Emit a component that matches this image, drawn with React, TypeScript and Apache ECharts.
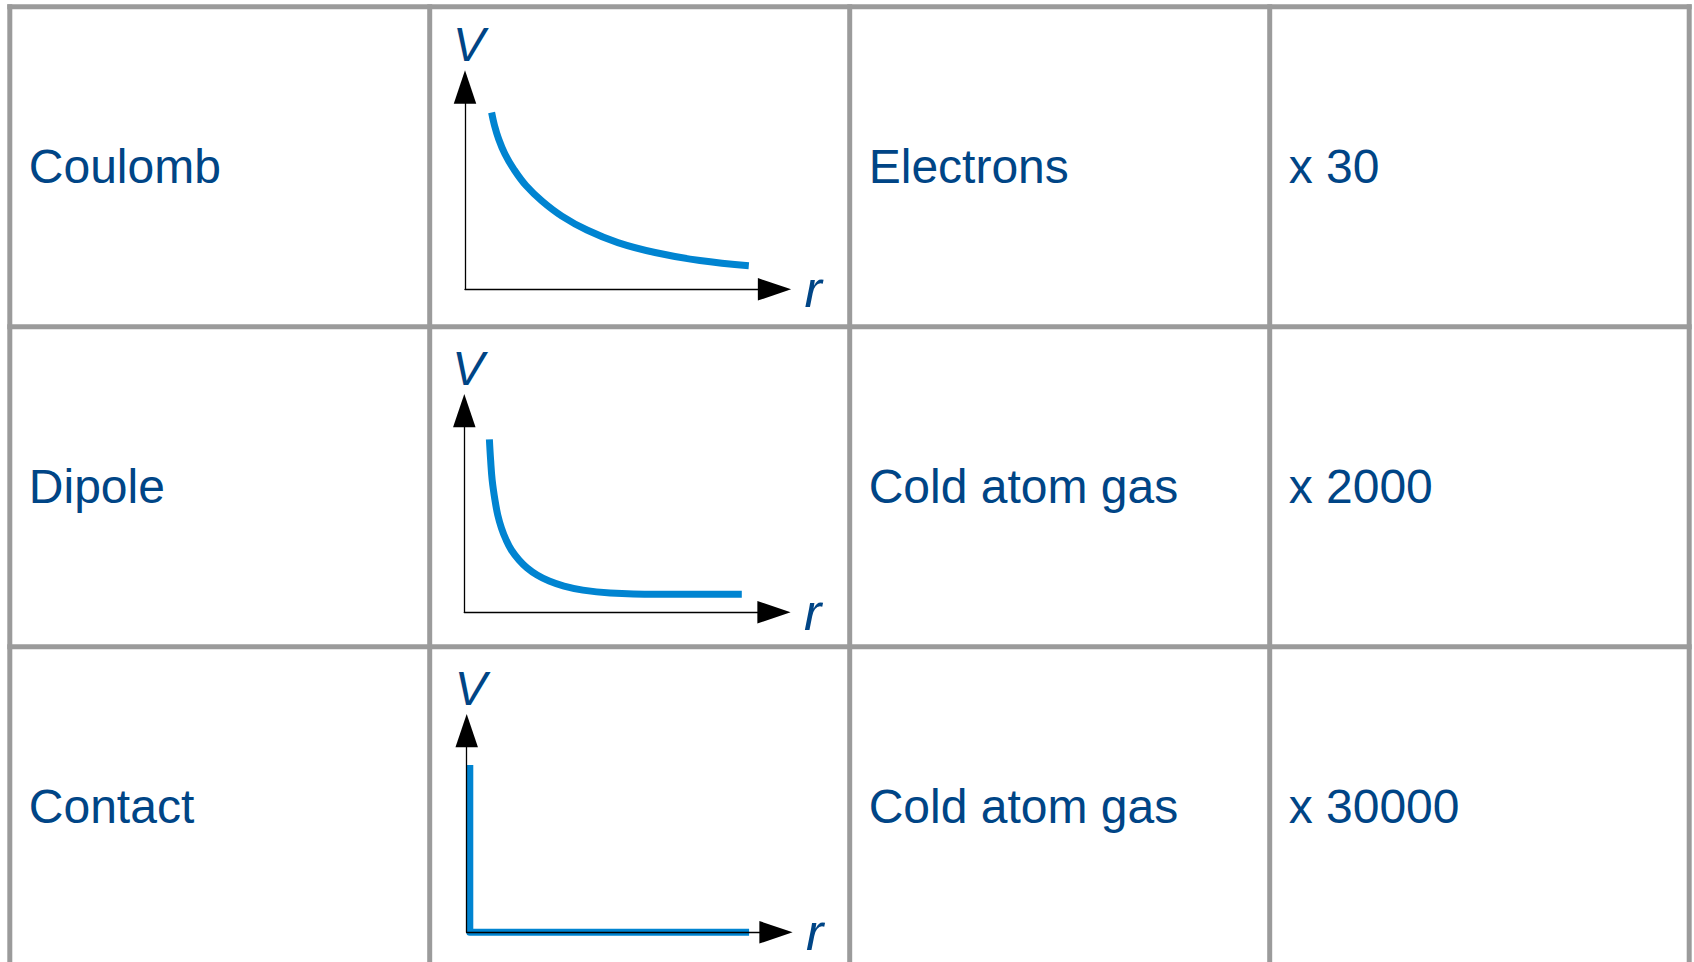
import React, { useEffect, useRef } from "react";
import * as echarts from "echarts";

// ---- data ----
const interactions = ["Coulomb", "Dipole", "Contact"];
const systems = ["Electrons", "Cold atom gas", "Cold atom gas"];
const factors = ["x 30", "x 2000", "x 30000"];

// potential curves, in axis units (r: 0..10, V: 0..10)
const coulombR = [0.86, 0.95, 1.09, 1.29, 1.58, 1.97, 2.49, 3.13, 3.94, 4.94, 6.14, 7.59, 9.17];
const coulombV = [8.74, 8.12, 7.42, 6.69, 5.93, 5.13, 4.36, 3.62, 2.93, 2.31, 1.82, 1.42, 1.16];
const dipoleR = [0.81, 0.85, 0.9, 0.99, 1.08, 1.2, 1.35, 1.52, 1.77, 2.03, 2.35, 2.74, 3.22, 3.83, 4.71, 6.16, 8.96];
const dipoleV = [8.58, 7.55, 6.56, 5.57, 4.83, 4.18, 3.59, 3.09, 2.59, 2.2, 1.85, 1.55, 1.3, 1.1, 0.96, 0.89, 0.89];
const contactR = [0.1, 0.1, 9.13];
const contactV = [8.3, 0, 0];

const axisNameV = "V";
const axisNameR = "r";

// ---- layout / style ----
const W = 1694;
const H = 962;
const colX = [9.8, 429.7, 849.7, 1269.7, 1689.2];
const rowY = [6.7, 326.7, 646.7, 966.7];
const gridBoxes = [
  { left: 465, top: 87, width: 309.5, height: 202.3 },
  { left: 464.3, top: 410.7, width: 309.7, height: 201.6 },
  { left: 466.7, top: 730.7, width: 309.3, height: 201.6 },
];
const TEXT_COLOR = "#004586";
const CURVE_COLOR = "#0084d1";
const GRID_COLOR = "#9b9b9b";
const FONT = "'Liberation Sans', Arial, sans-serif";

const zip = (a: number[], b: number[]) => a.map((v, i) => [v, b[i]]);

export default function App() {
  const ref = useRef<HTMLDivElement>(null);

  useEffect(() => {
    if (!ref.current) return;
    const chart = echarts.init(ref.current, null, { renderer: "svg" });

    const curves = [
      { data: zip(coulombR, coulombV), smooth: 0.4 },
      { data: zip(dipoleR, dipoleV), smooth: 0.4 },
      { data: zip(contactR, contactV), smooth: false },
    ];

    const axisLine = {
      show: true,
      symbol: ["none", "triangle"],
      symbolSize: [22.5, 33.3],
      lineStyle: { color: "#000", width: 1.3 },
    };

    const xAxis = gridBoxes.map((_, i) => ({
      type: "value",
      gridIndex: i,
      min: 0,
      max: 10,
      z: 5,
      axisLine,
      axisTick: { show: false },
      axisLabel: { show: false },
      splitLine: { show: false },
      name: axisNameR,
      nameLocation: "end",
      nameGap: 30,
      nameTextStyle: {
        fontFamily: FONT,
        fontStyle: "italic",
        fontSize: 52,
        color: TEXT_COLOR,
        align: "left",
        verticalAlign: "middle",
        padding: [0, 0, 4, 0],
      },
    }));

    const yAxis = gridBoxes.map((_, i) => ({
      type: "value",
      gridIndex: i,
      min: 0,
      max: 10,
      z: 5,
      axisLine,
      axisTick: { show: false },
      axisLabel: { show: false },
      splitLine: { show: false },
      name: axisNameV,
      nameLocation: "end",
      nameGap: 42.5,
      nameTextStyle: {
        fontFamily: FONT,
        fontStyle: "italic",
        fontSize: 48,
        color: TEXT_COLOR,
        align: "center",
        verticalAlign: "middle",
        padding: [0, 0, 0, 8],
      },
    }));

    const series = curves.map((c, i) => ({
      type: "line",
      xAxisIndex: i,
      yAxisIndex: i,
      data: c.data,
      smooth: c.smooth,
      showSymbol: false,
      clip: false,
      silent: true,
      lineStyle: { color: CURVE_COLOR, width: 7, cap: "butt", join: "round" },
    }));

    const graphics: any[] = [];
    // table lines
    colX.forEach((x) => {
      graphics.push({
        type: "line",
        shape: { x1: x, y1: rowY[0] - 2.5, x2: x, y2: rowY[3] + 2.5 },
        style: { stroke: GRID_COLOR, lineWidth: 5 },
        silent: true,
        z: 0,
      });
    });
    rowY.forEach((y) => {
      graphics.push({
        type: "line",
        shape: { x1: colX[0] - 2.5, y1: y, x2: colX[4] + 2.5, y2: y },
        style: { stroke: GRID_COLOR, lineWidth: 5 },
        silent: true,
        z: 0,
      });
    });
    // cell texts
    const cellText = (text: string, col: number, row: number) => ({
      type: "text",
      x: colX[col] + 19,
      y: (rowY[row] + rowY[row + 1]) / 2,
      silent: true,
      style: {
        text,
        fill: TEXT_COLOR,
        font: `48px ${FONT}`,
        textAlign: "left",
        textVerticalAlign: "middle",
      },
    });
    interactions.forEach((t, r) => graphics.push(cellText(t, 0, r)));
    systems.forEach((t, r) => graphics.push(cellText(t, 2, r)));
    factors.forEach((t, r) => graphics.push(cellText(t, 3, r)));

    chart.setOption({
      animation: false,
      backgroundColor: "#ffffff",
      grid: gridBoxes.map((g) => ({ ...g, containLabel: false })),
      xAxis,
      yAxis,
      series,
      graphic: { elements: graphics },
    });

    return () => chart.dispose();
  }, []);

  return (
    <div
      ref={ref}
      style={{ position: "fixed", left: 0, top: 0, width: W, height: H, background: "#fff" }}
    />
  );
}
